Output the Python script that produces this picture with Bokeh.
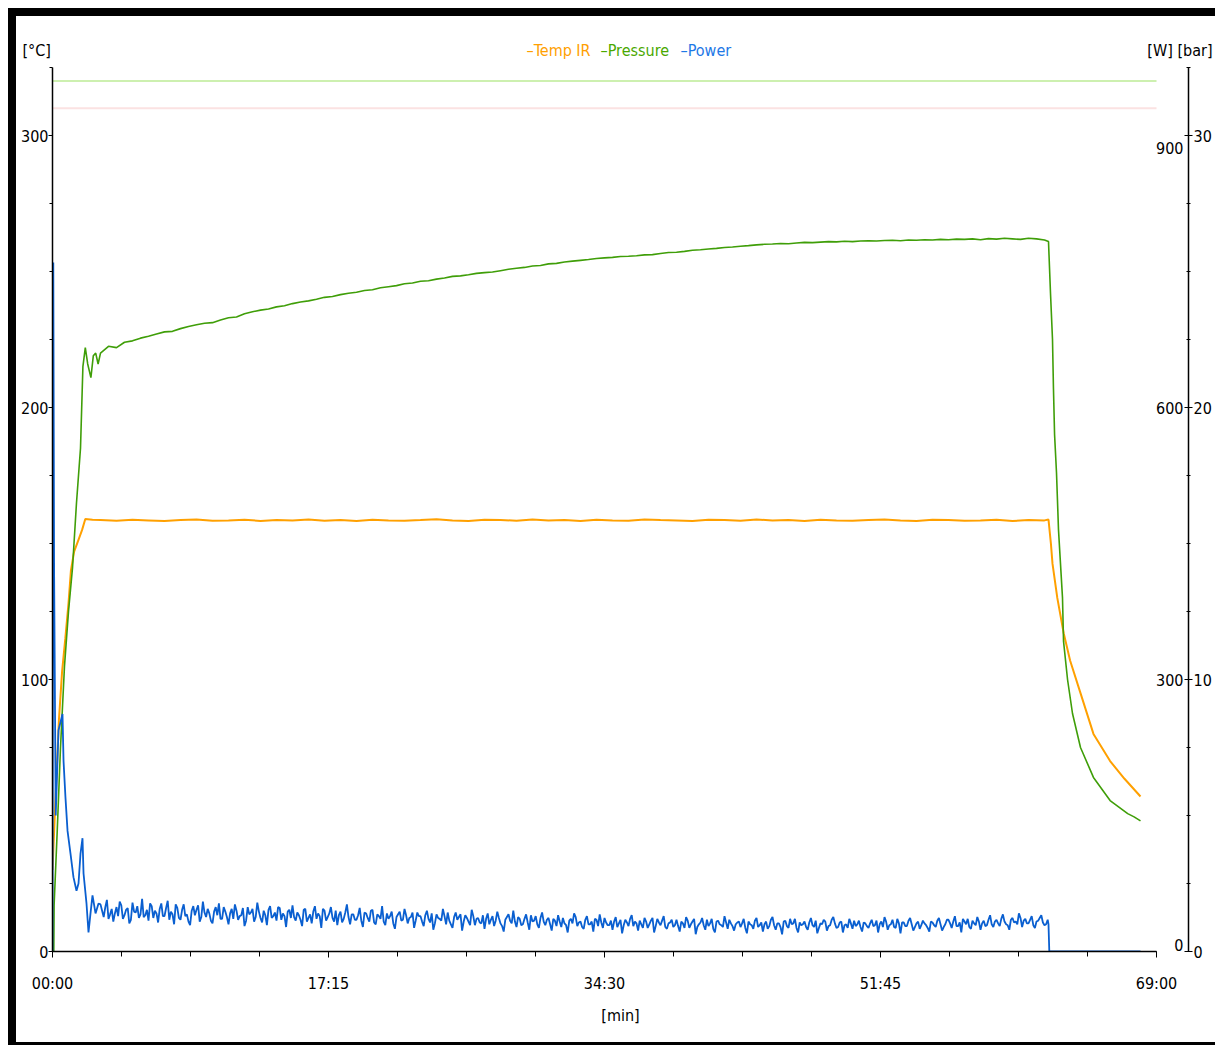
import numpy as np
from bokeh.plotting import figure
from bokeh.models import Range1d, LinearAxis, FixedTicker, Spacer
from bokeh.layouts import row, column
from bokeh.embed import file_html
from bokeh.resources import INLINE

# ---------------- data ----------------
X_TICKS = [0, 17.25, 34.5, 51.75, 69]
X_TICK_LABELS = ["00:00", "17:15", "34:30", "51:45", "69:00"]
X_LABEL = "[min]"
T_TICKS = [0, 100, 200, 300]
BAR_TICKS = [0, 10, 20, 30]
W_TICKS = [0, 300, 600, 900]
LEFT_UNIT = "[°C]"
RIGHT_UNIT = "[W] [bar]"
SERIES_NAMES = ["Temp IR", "Pressure", "Power"]
TEMP_MAX = 325
BAR_MAX = 32.5
W_MAX = 975
LIMIT_PRESSURE_BAR = 32
LIMIT_TEMP_C = 310

# Temperature IR [°C]
temp_start_t = [0.0, 0.2, 0.4, 0.6, 0.8, 1.0, 1.15, 1.35, 1.6, 1.85, 2.05, 2.5]
temp_start_v = [30, 58, 85, 103, 115, 128, 140, 147, 151, 155, 159, 158.7]
temp_plateau_t0, temp_plateau_dt = 3.0, 1.0
temp_plateau_v = [
    158.6, 158.4, 158.7, 158.5, 158.3, 158.6, 158.8, 158.4, 158.5, 158.7,
    158.3, 158.6, 158.5, 158.8, 158.4, 158.6, 158.3, 158.7, 158.5, 158.4,
    158.6, 158.9, 158.5, 158.3, 158.7, 158.6, 158.4, 158.8, 158.5, 158.6,
    158.3, 158.7, 158.5, 158.4, 158.8, 158.6, 158.5, 158.3, 158.7, 158.6,
    158.4, 158.8, 158.5, 158.6, 158.3, 158.7, 158.5, 158.4, 158.6, 158.8,
    158.5, 158.3, 158.7, 158.6, 158.4, 158.5, 158.7, 158.3, 158.6, 158.5,
]
temp_tail_t = [62.25, 62.4, 62.5, 62.8, 63.2, 63.6, 64.25, 65.06, 66.1, 67.0, 68.0]
temp_tail_v = [158.8, 150, 142.6, 130, 117, 107, 95, 80, 70, 63.5, 57]

# Pressure [bar]
pres_start_t = [0.0, 0.08, 0.1, 0.3, 0.5, 0.75, 1.0, 1.25, 1.5, 1.75, 1.9, 2.05,
                2.2, 2.4, 2.55, 2.7, 2.85]
pres_start_v = [0, 0, 1.7, 4.5, 7.5, 10.5, 12.5, 14.1, 16.5, 18.5, 21.5, 22.2,
                21.6, 21.1, 21.9, 22.0, 21.6]
pres_mid_t0, pres_mid_dt = 3.0, 0.5
pres_mid_v = [
    22.00, 22.25, 22.20, 22.40, 22.45, 22.55, 22.62, 22.70, 22.78, 22.80,
    22.90, 22.98, 23.04, 23.10, 23.12, 23.22, 23.30, 23.33, 23.45, 23.52,
    23.58, 23.62, 23.70, 23.74, 23.82, 23.88, 23.92, 23.98, 24.05, 24.08,
    24.15, 24.20, 24.24, 24.30, 24.33, 24.40, 24.44, 24.48, 24.55, 24.58,
    24.64, 24.66, 24.72, 24.76, 24.82, 24.84, 24.88, 24.93, 24.96, 24.98,
    25.03, 25.08, 25.12, 25.15, 25.20, 25.22, 25.28, 25.30, 25.35, 25.38,
    25.41, 25.44, 25.48, 25.50, 25.52, 25.55, 25.56, 25.58, 25.61, 25.62,
    25.66, 25.70, 25.71, 25.74, 25.78, 25.80, 25.83, 25.85, 25.88, 25.90,
    25.93, 25.95, 25.98, 26.00, 26.01, 26.03, 26.02, 26.05, 26.07, 26.06,
    26.08, 26.10, 26.09, 26.11, 26.10, 26.12, 26.13, 26.12, 26.14, 26.15,
    26.13, 26.16, 26.15, 26.17, 26.16, 26.18, 26.17, 26.19, 26.18, 26.20,
    26.17, 26.21, 26.19, 26.22, 26.20, 26.18, 26.22, 26.20, 26.16,
]
pres_tail_t = [62.25, 62.375, 62.5, 62.56, 62.63, 62.75, 62.81, 62.875, 63.125,
               63.19, 63.44, 63.75, 64.25, 65.06, 66.1, 67.2, 67.6, 68.0]
pres_tail_v = [26.1, 24.2, 22.5, 20.7, 19.0, 17.6, 16.6, 15.5, 13.0,
               11.4, 10.0, 8.75, 7.5, 6.4, 5.55, 5.07, 4.95, 4.8]

# Power [W]
pow_start_t = [0.0, 0.05, 0.1, 0.2, 0.375, 0.625, 0.69, 0.81, 0.94, 1.125, 1.31,
               1.5, 1.625, 1.75, 1.875, 1.94, 2.125, 2.25, 2.375, 2.5, 2.69, 2.875]
pow_start_v = [0, 760, 420, 150, 244, 262, 210, 170, 133, 108, 82,
               67, 75, 108, 125, 86, 53, 21, 42, 62, 42, 53]
# samples every 0.2 min from 3.0 min
pow_mid_t0, pow_mid_dt = 3.0, 0.2
pow_mid_v = [
    52, 38, 57, 41, 33, 49, 55, 36, 46, 31, 54, 43, 37, 58, 40, 34, 50, 45, 32, 53,
    39, 56, 44, 30, 48, 35, 52, 41, 29, 50, 46, 33, 55, 38, 42, 31, 49, 53, 36, 44,
    30, 47, 52, 35, 40, 28, 49, 43, 33, 54, 37, 45, 29, 50, 39, 34, 48, 42, 27, 46,
    51, 34, 40, 28, 47, 37, 31, 50, 42, 26, 45, 38, 49, 33, 29, 44, 36, 52, 30, 41,
    35, 48, 27, 42, 33, 46, 30, 39, 50, 29, 36, 44, 25, 41, 34, 47, 31, 38, 26, 43,
    39, 28, 45, 32, 24, 41, 36, 47, 30, 34, 26, 43, 38, 23, 40, 33, 46, 29, 37, 31,
    25, 42, 35, 28, 44, 31, 22, 38, 34, 45, 27, 36, 30, 41, 24, 33, 39, 26, 43, 29,
    37, 23, 34, 40, 27, 31, 21, 36, 42, 28, 33, 25, 39, 30, 22, 35, 41, 26, 32, 29,
    24, 38, 31, 20, 35, 28, 40, 33, 23, 30, 37, 26, 34, 21, 36, 29, 39, 25, 32, 27,
    35, 22, 31, 38, 26, 33, 19, 30, 37, 24, 28, 36, 21, 34, 29, 39, 25, 31, 23, 32,
    27, 36, 20, 30, 25, 37, 29, 22, 33, 28, 38, 24, 31, 19, 34, 26, 30, 36, 21, 29,
    33, 24, 37, 27, 20, 31, 35, 23, 29, 38, 26, 32, 21, 30, 36, 25, 28, 34, 22, 31,
    26, 35, 29, 21, 33, 38, 24, 30, 27, 36, 20, 32, 28, 37, 23, 31, 25, 34, 29, 22,
    32, 27, 37, 23, 30, 35, 26, 39, 28, 21, 33, 36, 25, 31, 38, 24, 34, 29, 40, 27,
    35, 28, 41, 30, 24, 37, 33, 42, 27, 36, 31, 39, 26, 34, 40, 29, 35,
]
# samples taken half-way between the ones above (3.1, 3.3, ... min)
pow_half_v = [
    45, 49, 36, 47, 42, 39, 51, 40, 48, 35, 44, 50, 41, 38, 46, 53, 37, 42, 47, 39,
    48, 35, 41, 52, 37, 46, 39, 33, 45, 40, 51, 38, 43, 47, 34, 44, 40, 36, 49, 38,
    42, 36, 45, 39, 48, 34, 41, 47, 38, 44, 32, 40, 46, 37, 43, 49, 35, 39, 44, 37,
    38, 43, 35, 46, 33, 41, 44, 36, 39, 47, 34, 42, 37, 45, 40, 32, 43, 38, 41, 35,
    40, 34, 43, 37, 45, 32, 41, 36, 33, 42, 39, 31, 38, 44, 35, 40, 37, 43, 34, 39,
    33, 40, 36, 42, 31, 37, 34, 39, 43, 30, 38, 35, 41, 33, 37, 29, 39, 36, 32, 40,
    36, 30, 39, 34, 37, 28, 35, 41, 31, 33, 38, 29, 36, 32, 40, 34, 30, 37, 33, 35,
    30, 36, 28, 33, 37, 29, 34, 31, 38, 32, 27, 35, 30, 33, 36, 28, 32, 37, 29, 34,
    33, 27, 35, 29, 32, 36, 28, 31, 34, 26, 33, 30, 37, 28, 32, 34, 27, 31, 35, 29,
    28, 33, 26, 34, 30, 36, 27, 32, 29, 35, 31, 25, 33, 30, 27, 32, 35, 28, 30, 33,
    31, 26, 33, 29, 34, 27, 32, 30, 25, 35, 29, 31, 27, 33, 28, 36, 31, 26, 32, 30,
    27, 32, 29, 34, 26, 30, 33, 28, 35, 31, 27, 33, 29, 26, 31, 34, 30, 27, 32, 28,
    31, 28, 34, 30, 27, 33, 29, 35, 26, 31, 32, 28, 34, 30, 27, 33, 29, 31, 26, 33,
    29, 34, 30, 27, 35, 31, 33, 28, 32, 36, 30, 27, 34, 29, 33, 31, 28, 35, 30, 33,
    31, 36, 33, 29, 35, 32, 30, 37, 34, 31, 35, 29, 33, 37, 32, 30,
]
pow_tail_t = [62.25, 62.3, 68.0]
pow_tail_v = [30, 0, 0]

# ---------------- assemble series ----------------
def grid_times(t0, dt, n):
    return [t0 + dt * i for i in range(n)]

temp_t = temp_start_t + grid_times(temp_plateau_t0, temp_plateau_dt, len(temp_plateau_v)) + temp_tail_t
temp_v = temp_start_v + temp_plateau_v + temp_tail_v
pres_t = pres_start_t + grid_times(pres_mid_t0, pres_mid_dt, len(pres_mid_v)) + pres_tail_t
pres_v = pres_start_v + pres_mid_v + pres_tail_v

pow_mid_all = []
for i, v in enumerate(pow_mid_v):
    pow_mid_all.append(v)
    if i < len(pow_half_v):
        pow_mid_all.append(pow_half_v[i])
pow_t = pow_start_t + grid_times(pow_mid_t0, pow_mid_dt / 2, len(pow_mid_all)) + pow_tail_t
pow_v = pow_start_v + pow_mid_all + pow_tail_v

# ---------------- style ----------------
FONT = "'DejaVu Sans Condensed', 'Liberation Sans Narrow', sans-serif"
FS = "16px"
ORANGE = "#ffa000"
GREEN = "#3f9e08"
BLUE = "#0a5fd0"
LEG_COLORS = ["#ffa000", "#4aa800", "#1e78e6"]

FRAME_W, FRAME_H = 1136, 884
LEFT_B, RIGHT_B, BOTTOM_B = 36, 24, 91
X_END = X_TICKS[-1] * FRAME_W / 1104.0   # frame reaches the right axis

p = figure(frame_width=FRAME_W, frame_height=FRAME_H,
           x_range=Range1d(0, X_END), y_range=Range1d(0, TEMP_MAX),
           toolbar_location=None, output_backend="svg",
           min_border_left=LEFT_B, min_border_right=RIGHT_B, min_border_top=0,
           min_border_bottom=BOTTOM_B,
           outline_line_color=None, background_fill_color="white", border_fill_color="white")
p.extra_y_ranges = {"bar": Range1d(0, BAR_MAX), "W": Range1d(0, W_MAX)}
p.grid.visible = False

def style_axis(ax):
    ax.axis_line_color = "black"
    ax.axis_line_width = 1.5
    ax.major_tick_line_color = "black"
    ax.minor_tick_line_color = "black"
    ax.major_label_text_font = FONT
    ax.major_label_text_font_size = FS
    ax.major_label_text_color = "black"
    ax.axis_label_text_font = FONT
    ax.axis_label_text_font_size = FS
    ax.axis_label_text_font_style = "normal"
    ax.axis_label_text_color = "black"

xa = p.xaxis[0]
style_axis(xa)
x_minor = list(np.arange(X_TICKS[0], X_TICKS[-1] + 0.01, (X_TICKS[1] - X_TICKS[0]) / 4))
xa.ticker = FixedTicker(ticks=X_TICKS, minor_ticks=x_minor)
xa.major_label_overrides = {t: l for t, l in zip(X_TICKS, X_TICK_LABELS)}
xa.bounds = (X_TICKS[0], X_TICKS[-1])
xa.axis_label = X_LABEL
xa.major_tick_in = 0
xa.major_tick_out = 6
xa.minor_tick_in = 0
xa.minor_tick_out = 5
xa.major_label_standoff = 16
xa.axis_label_standoff = 10

ya = p.yaxis[0]
style_axis(ya)
ya.ticker = FixedTicker(ticks=T_TICKS, minor_ticks=list(np.arange(0, TEMP_MAX + 0.1, 25)))
ya.major_tick_in = 0
ya.major_tick_out = 4
ya.minor_tick_in = 0
ya.minor_tick_out = 3
ya.major_label_standoff = 0

bar_axis = LinearAxis(y_range_name="bar",
                      ticker=FixedTicker(ticks=BAR_TICKS, minor_ticks=list(np.arange(0, BAR_MAX + 0.01, 2.5))))
style_axis(bar_axis)
bar_axis.major_tick_in = 4
bar_axis.major_tick_out = 4
bar_axis.minor_tick_in = 2
bar_axis.minor_tick_out = 2
bar_axis.major_label_standoff = 1
p.add_layout(bar_axis, "right")

# W tick labels on the inner side of the right axis
for w in W_TICKS:
    if w == W_TICKS[0]:
        base, off = "bottom", -1
    elif w == W_TICKS[-1]:
        base, off = "top", 6
    else:
        base, off = "middle", 0
    p.text(x=[X_END], y=[w], text=[str(w)], y_range_name="W",
           text_align="right", text_baseline=base, x_offset=-5, y_offset=off,
           text_font={"value": FONT}, text_font_size={"value": FS}, text_color="black")

# limit lines
p.line([X_TICKS[0], X_TICKS[-1]], [LIMIT_PRESSURE_BAR] * 2, y_range_name="bar",
       line_color="#cdf0b0", line_width=2)
p.line([X_TICKS[0], X_TICKS[-1]], [LIMIT_TEMP_C] * 2, line_color="#fbe2e2", line_width=2)

# series
p.line(temp_t, temp_v, line_color=ORANGE, line_width=2)
p.line(pres_t, pres_v, y_range_name="bar", line_color=GREEN, line_width=1.6)
p.line(pow_t, pow_v, y_range_name="W", line_color=BLUE, line_width=1.8)

# header strip with unit labels and colored legend texts (pixel coordinates)
HEADER_H = 51
HEADER_W = 1197
header = figure(width=HEADER_W, height=HEADER_H, x_range=Range1d(0, HEADER_W),
                y_range=Range1d(0, HEADER_H), toolbar_location=None, output_backend="svg",
                x_axis_location=None, y_axis_location=None, min_border=0,
                min_border_left=0, min_border_right=0, min_border_top=0, min_border_bottom=0,
                outline_line_color=None, background_fill_color="white", border_fill_color="white")
header.grid.visible = False
TEXT_Y = 17

def header_text(txt, x, color, align="left"):
    header.text(x=[x], y=[TEXT_Y], text=[txt], text_color=color, text_align=align,
                text_baseline="middle", text_font={"value": FONT},
                text_font_size={"value": FS})

header_text(LEFT_UNIT, 6, "black")
header_text(RIGHT_UNIT, HEADER_W - 1, "black", "right")
for name, x, c in zip(SERIES_NAMES, [510, 584, 664], LEG_COLORS):
    header_text("\u2013" + name, x, c)

# black frame around the chart
def black(w, h):
    return Spacer(width=w, height=h, styles={"background-color": "black"})

MAIN_H = FRAME_H + BOTTOM_B
inner = column(black(1207, 8),
               row(black(8, HEADER_H), header),
               row(black(8, MAIN_H), p),
               black(1207, 3))
layout = column(Spacer(width=1207, height=8),
                row(Spacer(width=8, height=HEADER_H + MAIN_H + 11), inner))

open("out.html", "w").write(file_html(layout, INLINE))
